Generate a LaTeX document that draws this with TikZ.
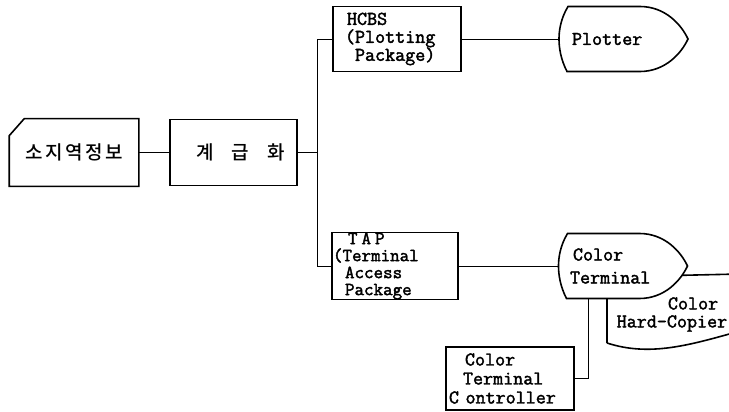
\documentclass[tikz,border=0pt]{standalone}
\usepackage{fontspec}
\newfontfamily\kr{Noto Sans CJK KR Medium}
\newfontfamily\mono[FakeBold=2]{Latin Modern Mono}
\usetikzlibrary{backgrounds}
\newcommand\monof[2]{\mono\fontsize{#1}{#2}\selectfont\bfseries}
\begin{document}
\begin{tikzpicture}[x=1pt,y=-1pt, line width=1.6pt,
  edge/.style={line width=1.6pt},
  box/.style={draw, rectangle, inner sep=0pt},
  ghost/.style={rectangle, inner sep=0pt},
  txt/.style={font=\monof{19.5}{18}},
  krtxt/.style={font=\kr\fontsize{19}{21}\selectfont},
  pics/dispshape/.style={code={
    \draw[edge, fill=white] (-55.5,-32.5) -- (16.5,-32.5)
      .. controls (42,-32.5) and (58,-14) .. (64.5,0)
      .. controls (58,14) and (42,32.5) .. (16.5,32.5)
      -- (-56.5,32.5)
      .. controls (-63,20) and (-64.5,8) .. (-64.5,0)
      .. controls (-64.5,-8) and (-63,-20) .. (-55.5,-32.5) -- cycle;
  }}
]
\useasboundingbox (0,0) rectangle (729,412);

% nodes
\node[ghost, krtxt, minimum width=128pt, minimum height=66pt] (info) at (74,152.5)
  {소\hspace{2.5pt}지\hspace{2.5pt}역\hspace{2.5pt}정\hspace{2.5pt}보};
\node[box, krtxt, minimum width=127pt, minimum height=66pt] (cls) at (233.5,152.5)
  {\hspace{14pt}계\hspace{18pt}급\hspace{18pt}화};
\node[box, txt, minimum width=128pt, minimum height=65pt, text width=104pt,
  inner xsep=12pt, align=left] (hcbs) at (397,39)
  {\hspace*{2pt}HCBS\\(Plotting\\\hspace*{10pt}Package)};
\node[ghost, txt, minimum width=129pt, minimum height=65pt, text width=103pt,
  inner xsep=13pt, align=left] (plot) at (623.5,39) {Plotter};
\node[box, txt, minimum width=126pt, minimum height=66pt, text width=124pt,
  inner xsep=1pt, align=left, font=\monof{18.5}{17}] (tap) at (395,266)
  {\hspace*{15pt}T\hspace{4pt}A\hspace{4pt}P\\(Terminal\\\hspace*{12pt}Access\\\hspace*{12pt}Package};
\node[ghost, txt, minimum width=128pt, minimum height=64pt, text width=106pt,
  inner xsep=11pt, align=left, font=\monof{19.5}{23}] (term) at (623,266)
  {\hspace*{3pt}Color\\Terminal};
\node[txt, inner sep=0pt, align=right, anchor=east] (hc) at (728,314.5)
  {Color\hspace*{9pt}\\Hard-Copier};
\node[box, txt, minimum width=128pt, minimum height=63pt, text width=122pt,
  inner xsep=3pt, align=left, font=\monof{19.5}{19}] (ctrl) at (510,378.5)
  {\hspace*{16pt}Color\\\hspace*{14pt}Terminal\\C ontroller};

% shapes drawn behind the texts
\begin{pgfonlayer}{background}
  \draw[edge] ([yshift=-17pt]info.north west) -- ([xshift=15pt]info.north west)
    -- (info.north east) -- (info.south east) -- (info.south west) -- cycle;
  % hard copier (document shape, partly hidden)
  \draw[edge] (607,343) -- (607,277) -- (740,274);
  \draw[edge] (607,343) .. controls (650,357) and (690,345) .. (740,331);
  \pic at (plot.center) {dispshape};
  \pic at (term.center) {dispshape};
\end{pgfonlayer}

% connectors
\draw (info.east) -- (cls.west);
\draw (cls.east) -- ++(19,0) coordinate (bus);
\draw (bus) |- (hcbs.west);
\draw (bus) |- (tap.west);
\draw (hcbs.east) -- (plot.west);
\draw (tap.east) -- (term.west);
\draw (ctrl.east) -| ([xshift=-35pt]term.south);
\end{tikzpicture}
\end{document}
